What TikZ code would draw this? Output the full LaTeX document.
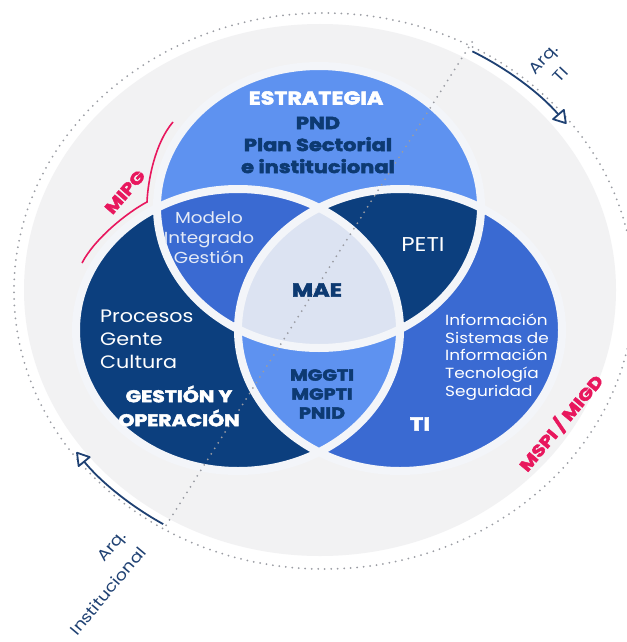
\documentclass[tikz,border=0pt]{standalone}
\usepackage{fontspec}
\setmainfont{Poppins}[FakeStretch=1.15]
\newfontfamily\hv{Poppins}[FakeStretch=1.2, BoldFeatures={FakeBold=3}]
\usetikzlibrary{arrows.meta}
\definecolor{ringc}{HTML}{F2F2F3}
\definecolor{gapc}{HTML}{F3F5F9}
\definecolor{topc}{HTML}{5E92F0}
\definecolor{midc}{HTML}{3A6AD2}
\definecolor{navy}{HTML}{0C3F7E}
\definecolor{maec}{HTML}{DCE3F2}
\definecolor{txtnavy}{HTML}{0D3A72}
\definecolor{modc}{HTML}{E4EAF6}
\definecolor{arrowc}{HTML}{1F4173}
\definecolor{pinkc}{HTML}{E8175D}
\definecolor{dotc}{HTML}{9A9CA3}
\begin{document}
\begin{tikzpicture}[x=1pt,y=-1pt,
  txt/.style={inner sep=0pt},
  dotline/.style={dotc, line width=2pt, line cap=round, dash pattern=on 0pt off 6.5pt},
  gapline/.style={gapc, line width=8pt},
  arq/.style={arrowc, line width=1.8pt, -{Triangle[round, fill=white, length=14pt, width=17pt]}},
  arqtext/.style={txt, text=arrowc, font=\fontsize{15.5}{23}\selectfont},
  pinktext/.style={txt, text=pinkc, font=\hv\bfseries\fontsize{16.5}{18}\selectfont},
]
\useasboundingbox (0,0) rectangle (626,642);
\fill[white] (0,0) rectangle (626,642);
\fill[ringc] (320,290) ellipse[x radius=296, y radius=266];
\draw[dotline] (324,291) ellipse[x radius=310, y radius=278];

% Venn
\coordinate (T) at (319,207);
\coordinate (L) at (238,330);
\coordinate (R) at (400,330);
\fill[topc] (T) ellipse[x radius=162, y radius=141];
\fill[navy] (L) ellipse[x radius=162, y radius=141];
\fill[midc] (R) ellipse[x radius=162, y radius=141];
\begin{scope}
  \clip (T) ellipse[x radius=162, y radius=141];
  \fill[midc] (L) ellipse[x radius=162, y radius=141];
  \fill[navy] (R) ellipse[x radius=162, y radius=141];
\end{scope}
\begin{scope}
  \clip (L) ellipse[x radius=162, y radius=141];
  \fill[topc] (R) ellipse[x radius=162, y radius=141];
\end{scope}
\begin{scope}
  \clip (T) ellipse[x radius=162, y radius=141];
  \clip (L) ellipse[x radius=162, y radius=141];
  \fill[maec] (R) ellipse[x radius=162, y radius=141];
\end{scope}
\draw[gapline] (T) ellipse[x radius=162, y radius=141];
\draw[gapline] (L) ellipse[x radius=162, y radius=141];
\draw[gapline] (R) ellipse[x radius=162, y radius=141];

% diagonal dotted line
\coordinate (d1) at (472,42);
\coordinate (d2) at (165,527);
\draw[dotline] (d1) -- (d2);

% arrows
\coordinate (a1) at ([shift={(-61:306 and 274)}]324,291);
\draw[arq] (a1) arc[start angle=-61, end angle=-37.6, x radius=306, y radius=274];
\coordinate (a2) at ([shift={(121.7:306 and 274)}]324,291);
\draw[arq] (a2) arc[start angle=121.7, end angle=144, x radius=306, y radius=274];

% MIPG curve
\coordinate (p1) at (173,122);
\coordinate (p2) at (147,202);
\coordinate (p3) at (82,263);
\draw[pinkc, line width=1.6pt, line join=miter] (p1) .. controls (155,143) and (148,180) .. (p2) .. controls (128,212) and (95,238) .. (p3);

% texts
\node[txt, text=white, font=\hv\bfseries\fontsize{18.5}{22}\selectfont] (estr) at (316,98) {ESTRATEGIA};
\node[txt, text=txtnavy, align=center, font=\hv\bfseries\fontsize{17.5}{22}\selectfont] (pnd) at (318,145) {PND\\Plan Sectorial\\e institucional};
\node[txt, text=modc, align=center, font=\fontsize{16}{20}\selectfont] (mig) at (209,238) {Modelo\\Integrado\\Gestión};
\node[txt, text=white, font=\fontsize{20}{22}\selectfont] (peti) at (423,245) {PETI};
\node[txt, text=txtnavy, font=\hv\bfseries\fontsize{19}{20}\selectfont] (mae) at (317,290) {MAE};
\node[txt, text=txtnavy, align=center, font=\hv\bfseries\fontsize{16}{19}\selectfont] (mg) at (322,394) {MGGTI\\MGPTI\\PNID};
\node[txt, text=white, align=left, anchor=west, font=\fontsize{18}{23}\selectfont] (proc) at (100,339) {Procesos\\Gente\\Cultura};
\node[txt, text=white, align=center, font=\hv\bfseries\fontsize{17}{24}\selectfont] (gest) at (179,406) {GESTIÓN Y\\OPERACIÓN};
\node[txt, text=white, align=left, anchor=west, font=\fontsize{14.7}{17.7}\selectfont] (info) at (445,357) {Información\\Sistemas de\\Información\\Tecnología\\Seguridad};
\node[txt, text=white, font=\hv\bfseries\fontsize{19}{22}\selectfont] (ti) at (420,424) {TI};
\node[arqtext, align=center, rotate=47] (arqti) at (552,67) {Arq.\\TI};
\node[arqtext, align=right, rotate=50, font=\fontsize{15.5}{26}\selectfont] (arqinst) at (98,583) {Arq.\\Institucional};
\node[pinktext, rotate=49] (mipg) at (125,192) {MIPG};
\node[pinktext, rotate=50] (mspi) at (561,423) {MSPI / MIGD};
\end{tikzpicture}
\end{document}
